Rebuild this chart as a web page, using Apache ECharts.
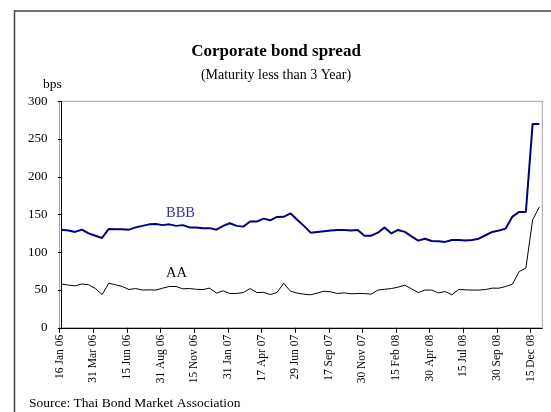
<!DOCTYPE html>
<html>
<head>
<meta charset="utf-8">
<script src="https://cdn.jsdelivr.net/npm/echarts@6/dist/echarts.min.js"></script>
<style>
  html, body { margin: 0; padding: 0; background: #fff; }
  #chart { width: 551px; height: 412px; }
</style>
</head>
<body>
<div id="chart"></div>
<script>
// Semi-monthly observations, 16 Jan 06 .. 31 Dec 08 (72 points)
const periods = [
  '16 Jan 06','31 Jan 06','15 Feb 06','28 Feb 06','15 Mar 06','31 Mar 06','15 Apr 06','30 Apr 06',
  '15 May 06','31 May 06','15 Jun 06','30 Jun 06','15 Jul 06','31 Jul 06','15 Aug 06','31 Aug 06',
  '15 Sep 06','30 Sep 06','15 Oct 06','31 Oct 06','15 Nov 06','30 Nov 06','15 Dec 06','31 Dec 06',
  '15 Jan 07','31 Jan 07','15 Feb 07','28 Feb 07','15 Mar 07','31 Mar 07','17 Apr 07','30 Apr 07',
  '15 May 07','31 May 07','15 Jun 07','29 Jun 07','15 Jul 07','31 Jul 07','15 Aug 07','31 Aug 07',
  '17 Sep 07','30 Sep 07','15 Oct 07','31 Oct 07','15 Nov 07','30 Nov 07','15 Dec 07','31 Dec 07',
  '15 Jan 08','31 Jan 08','15 Feb 08','29 Feb 08','15 Mar 08','31 Mar 08','15 Apr 08','30 Apr 08',
  '15 May 08','31 May 08','15 Jun 08','30 Jun 08','15 Jul 08','31 Jul 08','15 Aug 08','31 Aug 08',
  '15 Sep 08','30 Sep 08','15 Oct 08','31 Oct 08','15 Nov 08','30 Nov 08','15 Dec 08','31 Dec 08'
];

// Spread over government bonds, bps
const bbb = [
  130, 129, 127, 130, 125, 122, 119, 131, 130.5, 130.5,
  130, 133, 135, 137, 137.6, 136, 137, 135, 136, 133,
  133, 132, 132, 130, 135, 138.5, 135, 134, 140.7, 140.7,
  144.6, 142.4, 146.9, 147, 151.7, 143, 135, 126, 127, 128,
  129, 129.6, 129.6, 129, 129.6, 122, 122, 126, 133, 125,
  129.6, 127, 121, 115.5, 118, 115, 114.7, 113.8, 116.4, 116.4,
  115.5, 116.4, 118, 122.6, 127, 128.8, 131.4, 147.3, 153.5, 153.5,
  270, 270
];
const aa = [
  58, 56.5, 55.6, 58, 57, 52, 44, 59, 57, 54.7,
  50.7, 52, 50, 50.3, 50, 52.5, 54.7, 54.7, 51.6, 52,
  51, 50.7, 52.5, 46, 49, 45.4, 45.4, 46.7, 52, 46.7,
  47, 44, 46.7, 59, 48.5, 46, 44.5, 43.7, 46, 48.5,
  47.6, 45.4, 46.3, 45, 45.4, 45.4, 44.5, 50, 51, 52,
  53.8, 56.5, 51.6, 46.7, 50, 50, 46.3, 48, 43.7, 50.7,
  50.3, 50, 50, 50.7, 52.5, 52.5, 54.7, 57.8, 74.5, 79,
  143, 160
];

// Dates printed under the axis ticks
const tickLabels = [
  '16 Jan 06','31 Mar 06','15 Jun 06','31 Aug 06','15 Nov 06','31 Jan 07','17 Apr 07',
  '29 Jun 07','17 Sep 07','30 Nov 07','15 Feb 08','30 Apr 08','15 Jul 08','30 Sep 08','15 Dec 08'
];

const yTicks = [0, 50, 100, 150, 200, 250, 300];

const serif = "'Liberation Serif', 'Times New Roman', serif";

// Ticks sit every fifth observation, nudged slightly left of the sampled point
const tickPos = tickLabels.map((_, k) => k * 5 - 0.3);

const toPairs = arr => arr.map((v, i) => [i, v]);

const chart = echarts.init(document.getElementById('chart'), null, { renderer: 'canvas' });

chart.setOption({
  animation: false,
  backgroundColor: '#ffffff',
  title: [
    {
      text: 'Corporate bond spread',
      left: 271, top: 38, textAlign: 'center',
      textStyle: { fontFamily: serif, fontSize: 17, fontWeight: 'bold', color: '#000' }
    },
    {
      text: '(Maturity less than 3 Year)',
      left: 271, top: 63, textAlign: 'center',
      textStyle: { fontFamily: serif, fontSize: 14, fontWeight: 'normal', color: '#000' }
    }
  ],
  grid: {
    left: 59.5, right: 8.7, top: 101.3, bottom: 84.2,
    show: true, borderColor: '#a0a0a0', borderWidth: 1, backgroundColor: 'transparent'
  },
  xAxis: {
    type: 'value',
    min: -0.33, max: 71.44,
    axisLine: { show: true, onZero: false, lineStyle: { color: '#000', width: 1 } },
    axisTick: { show: true, length: 5, lineStyle: { color: '#000' }, customValues: tickPos },
    axisLabel: {
      customValues: tickPos,
      rotate: 90, margin: 7,
      fontFamily: serif, fontSize: 11.5, color: '#000',
      formatter: v => tickLabels[Math.round((v + 0.3) / 5)] || ''
    },
    splitLine: { show: false }
  },
  yAxis: {
    type: 'value',
    min: yTicks[0], max: yTicks[yTicks.length - 1], interval: 50,
    name: 'bps',
    nameLocation: 'end',
    nameGap: 10,
    nameTextStyle: { fontFamily: serif, fontSize: 13.5, color: '#000', align: 'right', padding: [0, 0, 0, 0] },
    axisLine: { show: true, lineStyle: { color: '#000', width: 1 } },
    axisTick: { show: true, length: 4, lineStyle: { color: '#000' } },
    axisLabel: { margin: 12, fontFamily: serif, fontSize: 13, color: '#000' },
    splitLine: { show: false }
  },
  series: [
    {
      name: 'BBB', type: 'line', data: toPairs(bbb),
      symbol: 'none', lineStyle: { color: '#000080', width: 2 }
    },
    {
      name: 'AA', type: 'line', data: toPairs(aa),
      symbol: 'none', lineStyle: { color: '#000000', width: 1 }
    }
  ],
  graphic: [
    {
      type: 'rect', silent: true,
      shape: { x: 14.5, y: 11, width: 700, height: 600 },
      style: { fill: 'none', stroke: '#404040', lineWidth: 1.5 }
    },
    {
      type: 'text', left: 166, top: 206,
      style: { text: 'BBB', fontFamily: serif, fontSize: 14.5, fill: '#333399' }
    },
    {
      type: 'text', left: 166, top: 266,
      style: { text: 'AA', fontFamily: serif, fontSize: 14.5, fill: '#000' }
    },
    {
      type: 'text', left: 29, top: 396,
      style: { text: 'Source: Thai Bond Market Association', fontFamily: serif, fontSize: 13.5, fill: '#000' }
    }
  ]
});
</script>
</body>
</html>
